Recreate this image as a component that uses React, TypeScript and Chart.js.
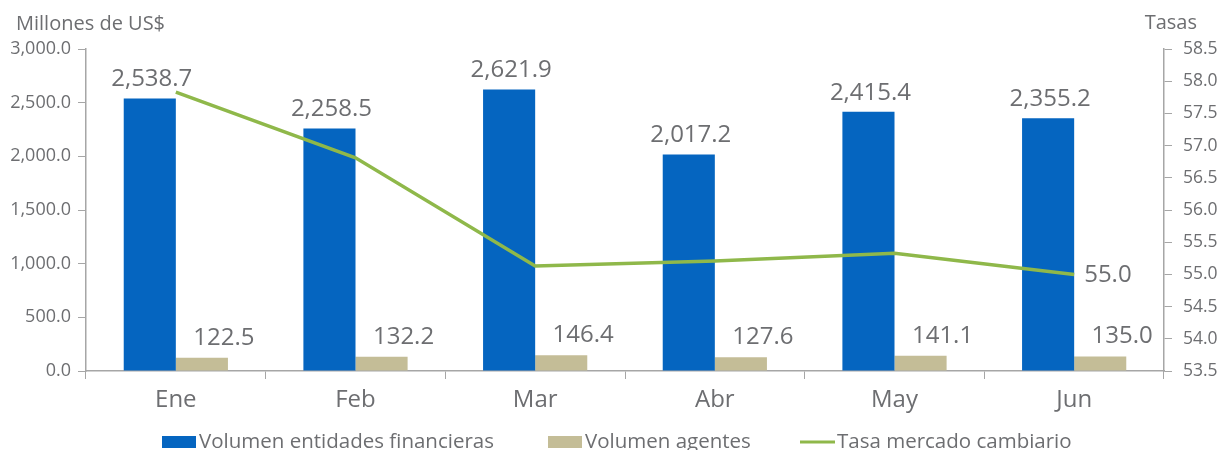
import React, { useEffect, useRef } from "react";
import { Chart, registerables } from "chart.js";

Chart.register(...registerables);

const categories = ["Ene", "Feb", "Mar", "Abr", "May", "Jun"];
const volEntidades = [2538.7, 2258.5, 2621.9, 2017.2, 2415.4, 2355.2];
const volAgentes = [122.5, 132.2, 146.4, 127.6, 141.1, 135.0];
const tasa = [57.83, 56.81, 55.13, 55.21, 55.33, 55.0];

const FONT = "'Open Sans', sans-serif";
const TEXT = "#6d6e71";
const AXIS = "#a6a6a6";
const BLUE = "#0565c0";
const KHAKI = "#c4bd97";
const GREEN = "#8fb84a";

const fmt = (v: number) =>
  v.toLocaleString("en-US", { minimumFractionDigits: 1, maximumFractionDigits: 1 });

const labelsPlugin = {
  id: "customLabels",
  afterDatasetsDraw(chart: any) {
    const ctx = chart.ctx;
    ctx.save();
    ctx.fillStyle = TEXT;
    ctx.font = `500 24px ${FONT}`;
    const m0 = chart.getDatasetMeta(0);
    m0.data.forEach((el: any, i: number) => {
      ctx.textAlign = "center";
      ctx.textBaseline = "bottom";
      ctx.fillText(fmt(volEntidades[i]), el.x + 2, el.y - 7);
    });
    const m1 = chart.getDatasetMeta(1);
    m1.data.forEach((el: any, i: number) => {
      ctx.textAlign = "center";
      ctx.textBaseline = "bottom";
      ctx.fillText(fmt(volAgentes[i]), el.x + 22, el.y - 8);
    });
    const m2 = chart.getDatasetMeta(2);
    const last = m2.data[m2.data.length - 1];
    ctx.textAlign = "left";
    ctx.textBaseline = "middle";
    ctx.fillText(fmt(tasa[tasa.length - 1]), last.x + 10, last.y + 1);

    // axis titles
    ctx.font = `500 20px ${FONT}`;
    ctx.textBaseline = "middle";
    ctx.textAlign = "left";
    ctx.fillText("Millones de US$", 16, 24);
    ctx.textAlign = "right";
    ctx.fillText("Tasas", 1197, 23);

    // legend
    ctx.font = `500 20.5px ${FONT}`;
    ctx.textBaseline = "middle";
    ctx.textAlign = "left";
    const ly = 442;
    const items = [
      { x: 162, ds: chart.data.datasets[0], type: "box" },
      { x: 548, ds: chart.data.datasets[1], type: "box" },
      { x: 800, ds: chart.data.datasets[2], type: "line" },
    ];
    items.forEach((it) => {
      if (it.type === "box") {
        ctx.fillStyle = it.ds.backgroundColor;
        ctx.fillRect(it.x, ly - 6, 34, 12);
      } else {
        ctx.strokeStyle = it.ds.borderColor;
        ctx.lineWidth = 3;
        ctx.beginPath();
        ctx.moveTo(it.x, ly);
        ctx.lineTo(it.x + 35, ly);
        ctx.stroke();
      }
      ctx.fillStyle = TEXT;
      ctx.fillText(it.ds.label, it.x + 37, ly);
    });
    ctx.restore();
  },
};

export default function App() {
  const ref = useRef<HTMLCanvasElement>(null);
  useEffect(() => {
    document.body.style.margin = "0";
    const chart = new Chart(ref.current!, {
      type: "bar",
      data: {
        labels: categories,
        datasets: [
          {
            type: "bar",
            label: "Volumen entidades financieras",
            data: volEntidades,
            backgroundColor: BLUE,
            yAxisID: "y",
            order: 2,
          },
          {
            type: "bar",
            label: "Volumen agentes",
            data: volAgentes,
            backgroundColor: KHAKI,
            yAxisID: "y",
            order: 2,
          },
          {
            type: "line",
            label: "Tasa mercado cambiario",
            data: tasa,
            borderColor: GREEN,
            backgroundColor: GREEN,
            borderWidth: 3.5,
            pointRadius: 0,
            tension: 0,
            yAxisID: "y1",
            order: 1,
          } as any,
        ],
      },
      options: {
        responsive: false,
        animation: false,
        layout: { padding: { top: 49, left: 0, right: 0, bottom: 0 } },
        datasets: {
          bar: { categoryPercentage: 0.58, barPercentage: 1.0 },
        } as any,
        plugins: {
          legend: { display: false },
          tooltip: { enabled: false },
        },
        scales: {
          x: {
            offset: true,
            grid: {
              display: true,
              offset: true,
              drawOnChartArea: false,
              drawTicks: true,
              tickLength: 8,
              color: AXIS,
            },
            border: { display: true, color: AXIS, width: 1.5 },
            ticks: { color: TEXT, font: { family: FONT, size: 24, weight: "500" }, padding: 7 },
            afterFit: (s: any) => {
              s.height = 79;
            },
          },
          y: {
            position: "left",
            min: 0,
            max: 3000,
            grid: {
              display: true,
              drawOnChartArea: false,
              drawTicks: true,
              tickLength: 8,
              color: AXIS,
            },
            border: { display: true, color: AXIS, width: 1.5 },
            ticks: {
              stepSize: 500,
              color: TEXT,
              font: { family: FONT, size: 18, weight: "500" },
              padding: 7,
              callback: (v: any) => fmt(Number(v)),
            },
            afterFit: (s: any) => {
              s.width = 86;
            },
          },
          y1: {
            position: "right",
            min: 53.5,
            max: 58.5,
            grid: {
              display: true,
              drawOnChartArea: false,
              drawTicks: true,
              tickLength: 8,
              color: AXIS,
            },
            border: { display: true, color: AXIS, width: 1.5 },
            ticks: {
              stepSize: 0.5,
              color: TEXT,
              font: { family: FONT, size: 17.5, weight: "500" },
              padding: 11,
              callback: (v: any) => Number(v).toFixed(1),
            },
            afterFit: (s: any) => {
              s.width = 58;
            },
          },
        },
      } as any,
      plugins: [labelsPlugin],
    });
    return () => chart.destroy();
  }, []);
  return <canvas ref={ref} width={1222} height={450} style={{ display: "block" }} />;
}
